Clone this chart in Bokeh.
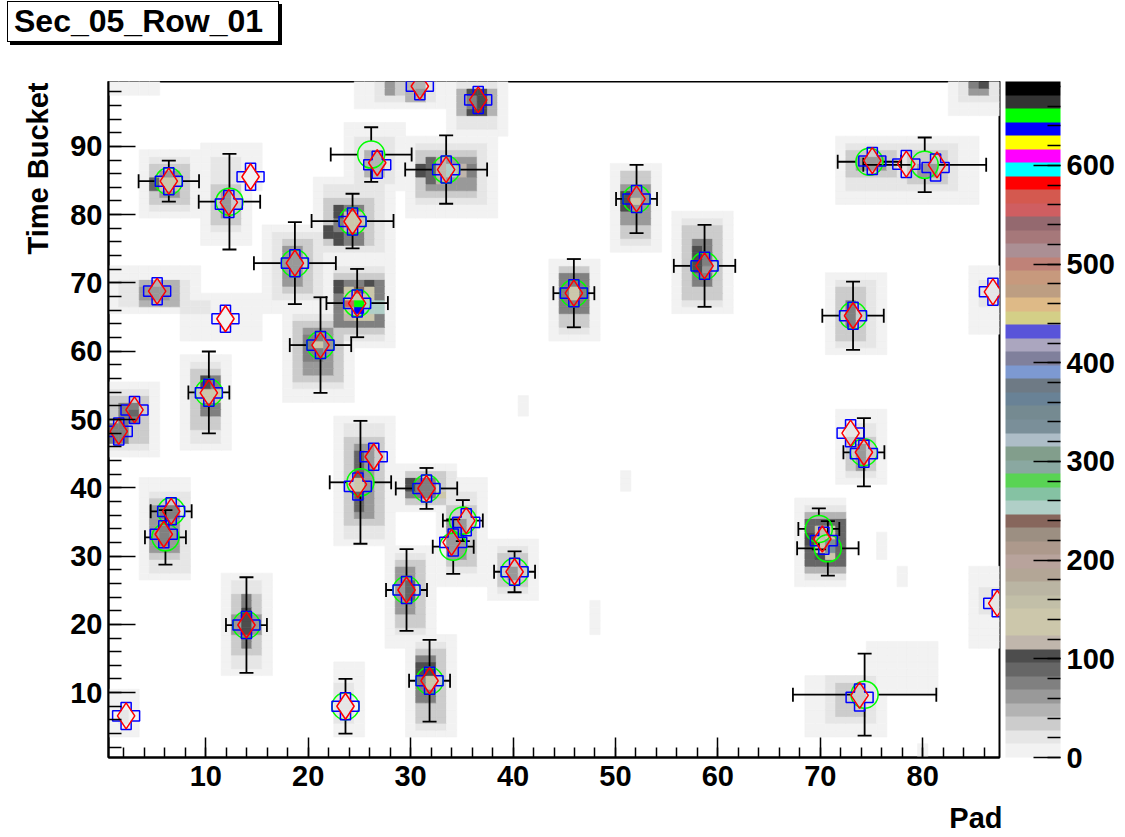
import math
import numpy as np
from bokeh.plotting import figure
from bokeh.layouts import column
from bokeh.models import LinearColorMapper, ColorBar, SingleIntervalTicker, Title, ColumnDataSource, Div
from bokeh.embed import file_html
from bokeh.resources import INLINE

# ---------------- data ----------------
TITLE = "Sec_05_Row_01"
X_TITLE = "Pad"
Y_TITLE = "Time Bucket"
PAD_RANGE = (0.5, 87.5)
TB_RANGE = (0.5, 99.5)
Z_MAX = 685

# ROOT default 50-colour palette (bottom -> top of the colour bar)
PALETTE = ["#f2f2f2", "#e6e6e6", "#cccccc", "#b3b3b3", "#999999", "#808080", "#666666", "#4d4d4d",
           "#c0b6ac", "#ccc7ab", "#ccc7ab", "#c2bfa8", "#bab5a3", "#b3a696", "#b8a39c", "#ad998c",
           "#9c8f82", "#87665c", "#b0cfc7", "#85c2a3", "#59d454", "#8aa8a1", "#829e8c", "#adbdc7",
           "#7a8f99", "#758a91", "#698296", "#6e7a85", "#7d99d1", "#80809c", "#aba6bf", "#5954d9",
           "#d4cf87", "#deba87", "#bd9e82", "#c7997d", "#bf8278", "#ab8f94", "#a6787a", "#94696f",
           "#cf5e61", "#d4594f", "#ff0000", "#00ffff", "#ff00ff", "#ffff00", "#0000ff", "#00ff00",
           "#333333", "#000000"]

# histogram content, as blocks of cells:
# (cluster, first pad, last pad, first time bucket, last time bucket, ADC)
CELL_BLOCKS = [
    (1, 25, 33, 96, 99, 8), (1, 27, 32, 97, 99, 20), (1, 28, 28, 98, 99, 60), (1, 29, 29, 98, 99, 35), (1, 30, 31, 97, 99, 45), (1, 31, 31, 98, 98, 65),
    (2, 34, 39, 92, 99, 8), (2, 35, 38, 93, 99, 20), (2, 35, 38, 95, 98, 45), (2, 36, 37, 95, 98, 100), (2, 36, 36, 96, 97, 70),
    (3, 4, 9, 80, 89, 8), (3, 5, 8, 81, 88, 20), (3, 5, 8, 82, 87, 40), (3, 6, 7, 83, 86, 60), (3, 5, 5, 84, 85, 85), (3, 6, 7, 84, 85, 140),
    (4, 13, 15, 84, 90, 8),
    (5, 10, 14, 76, 90, 8), (5, 11, 13, 78, 88, 20), (5, 11, 13, 79, 84, 40), (5, 12, 12, 80, 83, 60),
    (6, 24, 29, 84, 93, 8), (6, 25, 28, 85, 91, 20), (6, 26, 27, 86, 89, 45),
    (7, 30, 38, 80, 91, 8), (7, 31, 37, 82, 90, 20), (7, 31, 36, 83, 89, 40), (7, 32, 36, 84, 88, 60), (7, 31, 31, 86, 87, 100),
    (7, 32, 32, 85, 88, 85), (7, 33, 33, 85, 88, 120), (7, 34, 34, 86, 87, 253), (7, 35, 35, 86, 87, 115), (7, 36, 36, 86, 87, 75),
    (8, 21, 28, 74, 85, 8), (8, 22, 27, 75, 84, 20), (8, 22, 26, 76, 82, 40), (8, 23, 25, 76, 81, 70), (8, 22, 22, 77, 78, 100),
    (8, 23, 23, 76, 77, 100), (8, 24, 25, 78, 80, 140), (8, 23, 23, 80, 81, 100),
    (9, 16, 22, 66, 78, 8), (9, 17, 21, 68, 77, 20), (9, 18, 20, 69, 76, 40), (9, 18, 19, 70, 75, 55), (9, 18, 19, 72, 73, 65),
    (10, 1, 9, 66, 72, 8), (10, 8, 15, 62, 68, 8), (10, 2, 8, 67, 70, 20), (10, 4, 7, 67, 70, 45), (10, 4, 6, 68, 69, 65),
    (10, 8, 10, 66, 67, 20), (10, 11, 13, 62, 67, 8),
    (11, 22, 28, 61, 73, 8), (11, 23, 27, 62, 72, 20), (11, 23, 27, 63, 71, 40), (11, 23, 27, 64, 70, 75), (11, 24, 26, 65, 69, 140),
    (11, 23, 23, 69, 70, 100), (11, 26, 26, 70, 70, 100), (11, 25, 25, 69, 69, 240), (11, 26, 27, 66, 67, 253), (11, 24, 24, 67, 67, 555),
    (11, 25, 25, 67, 67, 650), (11, 25, 25, 66, 66, 637), (11, 24, 24, 65, 65, 115),
    (12, 18, 24, 53, 66, 8), (12, 19, 23, 55, 65, 20), (12, 19, 23, 56, 64, 35), (12, 20, 22, 57, 63, 55), (12, 20, 21, 59, 62, 75),
    (12, 21, 21, 61, 61, 130),
    (13, 8, 12, 46, 59, 8), (13, 9, 11, 47, 58, 20), (13, 9, 11, 49, 57, 40), (13, 10, 11, 51, 56, 70), (13, 10, 10, 55, 56, 100),
    (13, 10, 11, 53, 54, 140),
    (14, 1, 5, 45, 55, 8), (14, 1, 4, 46, 54, 20), (14, 1, 4, 47, 53, 40), (14, 2, 3, 50, 52, 75), (14, 1, 2, 47, 49, 70), (14, 3, 3, 51, 51, 95),
    (15, 4, 8, 27, 41, 8), (15, 5, 8, 28, 39, 20), (15, 5, 7, 30, 38, 35), (15, 5, 7, 31, 37, 55), (15, 6, 6, 32, 34, 75), (15, 6, 7, 36, 37, 75),
    (16, 1, 3, 4, 10, 8), (16, 2, 2, 6, 7, 20),
    (17, 12, 16, 13, 27, 8), (17, 13, 15, 14, 26, 20), (17, 13, 15, 16, 24, 40), (17, 14, 14, 17, 24, 75), (17, 14, 14, 19, 22, 100),
    (17, 13, 13, 19, 21, 60), (17, 15, 15, 19, 21, 60),
    (18, 23, 28, 32, 50, 8), (18, 24, 27, 33, 49, 20), (18, 24, 27, 35, 47, 35), (18, 25, 26, 36, 46, 60), (18, 25, 25, 37, 45, 90),
    (18, 25, 25, 40, 41, 135),
    (19, 29, 34, 37, 43, 8), (19, 30, 34, 38, 42, 20), (19, 30, 33, 38, 42, 40), (19, 30, 32, 39, 41, 80), (19, 30, 30, 40, 41, 105),
    (19, 33, 33, 39, 39, 140),
    (20, 33, 37, 26, 41, 8), (20, 34, 36, 28, 39, 20), (20, 34, 36, 29, 37, 40), (20, 34, 35, 30, 35, 60),
    (21, 28, 32, 17, 31, 8), (21, 29, 31, 19, 30, 20), (21, 29, 31, 20, 29, 35), (21, 29, 30, 22, 28, 65), (21, 30, 30, 24, 26, 95),
    (22, 38, 42, 24, 32, 8), (22, 39, 41, 25, 31, 20), (22, 39, 41, 26, 30, 35), (22, 40, 40, 27, 28, 55),
    (23, 23, 25, 4, 14, 8), (23, 23, 24, 6, 11, 20),
    (24, 30, 34, 4, 18, 8), (24, 31, 33, 5, 17, 20), (24, 31, 33, 6, 16, 35), (24, 31, 32, 9, 15, 70), (24, 31, 32, 13, 14, 100),
    (24, 32, 32, 11, 12, 130),
    (25, 50, 54, 75, 87, 8), (25, 51, 53, 76, 86, 20), (25, 51, 53, 77, 86, 35), (25, 51, 53, 79, 84, 65), (25, 51, 51, 81, 83, 100),
    (25, 52, 52, 82, 82, 140),
    (26, 56, 61, 66, 80, 8), (26, 57, 60, 67, 79, 20), (26, 57, 60, 68, 78, 35), (26, 58, 59, 70, 76, 70), (26, 58, 58, 72, 75, 100),
    (26, 59, 59, 72, 72, 60),
    (27, 44, 48, 62, 73, 8), (27, 45, 47, 63, 72, 20), (27, 45, 47, 64, 72, 35), (27, 45, 47, 66, 71, 70), (27, 46, 46, 68, 69, 140),
    (28, 71, 76, 60, 71, 8), (28, 72, 75, 61, 70, 20), (28, 72, 74, 62, 69, 35), (28, 73, 73, 64, 67, 75),
    (29, 72, 85, 82, 91, 8), (29, 73, 83, 84, 90, 20), (29, 73, 77, 86, 89, 35), (29, 79, 82, 85, 89, 35), (29, 74, 76, 87, 88, 65),
    (29, 80, 81, 86, 87, 60),
    (30, 83, 87, 95, 99, 8), (30, 84, 87, 97, 99, 20), (30, 85, 86, 98, 98, 60), (30, 86, 86, 99, 99, 100), (30, 85, 85, 99, 99, 75),
    (31, 85, 87, 63, 72, 8), (31, 86, 87, 67, 70, 20),
    (32, 72, 76, 41, 51, 8), (32, 73, 75, 42, 49, 20), (32, 73, 75, 43, 47, 40), (32, 74, 74, 43, 46, 60),
    (33, 68, 72, 26, 38, 8), (33, 69, 72, 27, 37, 20), (33, 69, 72, 28, 36, 45), (33, 69, 72, 29, 35, 95), (33, 70, 71, 30, 34, 135),
    (33, 70, 70, 33, 34, 160), (33, 71, 71, 31, 32, 335), (33, 70, 70, 30, 30, 100), (33, 69, 69, 32, 33, 105),
    (34, 85, 87, 17, 28, 8), (34, 86, 87, 22, 25, 20),
    (35, 69, 76, 4, 12, 8), (35, 75, 81, 10, 17, 8), (35, 71, 75, 6, 12, 20), (35, 72, 74, 7, 11, 30), (35, 72, 73, 8, 9, 40),
    (36, 41, 41, 51, 53, 8), (37, 51, 51, 40, 42, 8), (38, 48, 48, 19, 23, 8), (39, 76, 76, 30, 33, 8),
    (40, 78, 78, 26, 28, 8), (41, 80, 80, 1, 2, 8), (42, 1, 5, 98, 99, 8),
]

# reconstructed clusters (green circles) with errors
GREEN_X = [6.39, 12.31, 26.15, 33.47, 24.33, 18.70, 24.78, 21.20, 10.30, 74.80, 80.20, 52.06, 58.70, 45.94, 73.20,
           6.62, 6.06, 13.97, 25.10, 31.55, 35.10, 34.16, 29.60, 40.15, 23.64, 31.85, 74.26, 69.86, 70.74, 74.33]
GREEN_Y = [84.9, 81.9, 88.8, 86.6, 79.06, 72.9, 67.05, 60.9, 53.96, 87.75, 87.3, 82.3, 72.5, 68.5, 65.2,
           36.55, 32.74, 19.9, 40.8, 39.9, 35.2, 31.38, 25.03, 27.7, 8.0, 11.74, 45.2, 33.97, 31.13, 9.7]
GREEN_EX = [2.95, 3.0, 3.95, 4.0, 4.0, 4.0, 3.0, 3.0, 2.0, 3.1, 6.0, 2.0, 3.0, 2.0, 3.0,
            2.0, 2.0, 2.0, 3.0, 3.0, 1.95, 2.0, 2.0, 2.0, 0.5, 2.0, 2.0, 2.0, 3.0, 7.0]
GREEN_EY = [3.0, 7.0, 4.0, 5.0, 4.0, 6.0, 5.0, 7.0, 6.0, 1.0, 4.0, 5.0, 6.0, 5.0, 5.0,
            1.0, 4.0, 7.0, 9.0, 3.0, 3.0, 4.0, 6.0, 3.0, 4.0, 6.0, 5.0, 3.0, 4.0, 6.0]

# blue open crosses
BLUE_X = [30.9, 36.6, 6.39, 14.37, 12.25, 26.74, 33.47, 24.33, 18.7, 5.25, 11.92, 24.78, 21.2, 10.3, 3.04, 1.5,
          75.08, 78.4, 81.26, 52.06, 58.7, 45.94, 73.2, 86.86, 2.22, 6.62, 5.9, 13.97, 24.85, 26.4, 31.55,
          35.43, 34.16, 29.6, 40.15, 23.64, 31.85, 72.96, 74.26, 70.35, 87.28, 73.84]
BLUE_Y = [98.8, 96.8, 84.9, 85.55, 81.55, 87.3, 86.6, 79.0, 72.9, 68.8, 64.76, 67.0, 60.9, 53.9, 51.4, 48.26,
          87.85, 87.4, 86.9, 82.3, 72.5, 68.5, 65.2, 68.7, 6.59, 36.55, 33.2, 19.9, 40.2, 44.55, 39.9,
          34.94, 32.0, 25.03, 27.7, 8.0, 11.74, 48.0, 45.0, 32.26, 23.08, 9.3]

# red open diamonds
RED_X = [30.9, 36.6, 6.39, 14.37, 12.25, 26.74, 33.47, 24.33, 18.7, 5.25, 11.92, 24.78, 21.2, 10.3, 3.04, 1.5,
         75.08, 78.4, 81.4, 52.06, 58.7, 45.94, 73.2, 86.86, 2.22, 6.62, 5.9, 13.97, 24.85, 26.4, 31.55,
         35.43, 34.0, 29.6, 40.15, 23.64, 31.85, 72.96, 74.26, 70.2, 87.28, 73.84]
RED_Y = [98.8, 96.8, 84.9, 85.55, 81.8, 87.6, 86.6, 79.0, 72.9, 68.8, 64.76, 67.0, 60.9, 53.9, 51.4, 48.26,
         87.9, 87.4, 87.3, 82.3, 72.5, 68.5, 65.2, 68.7, 6.59, 36.55, 33.2, 19.9, 40.5, 44.55, 39.9,
         35.2, 32.0, 25.03, 27.7, 8.0, 11.74, 48.0, 45.2, 32.5, 23.08, 9.6]

# ---------------- layout constants ----------------
CANVAS_W = 1125
TOP_H = 81
FRAME_W, FRAME_H = 891, 676
MARKER_PX = 27
CAP_PX = 14
FONT = "Liberation Sans"

# ---------------- histogram cells ----------------
n_tb, n_pad = int(TB_RANGE[1] + 0.5), int(PAD_RANGE[1] + 0.5)
grid = np.zeros((n_tb + 1, n_pad + 1))
per_cluster = {}
for c, p0, p1, t0, t1, adc in CELL_BLOCKS:
    g = per_cluster.setdefault(c, np.zeros_like(grid))
    g[t0:t1 + 1, p0:p1 + 1] = adc
for g in per_cluster.values():
    grid = np.maximum(grid, g)
tb_idx, pad_idx = np.nonzero(grid)
cells = ColumnDataSource(dict(pad=pad_idx.astype(float), tb=tb_idx.astype(float), adc=grid[tb_idx, pad_idx]))

mapper = LinearColorMapper(palette=PALETTE, low=0, high=Z_MAX)

# ---------------- title strip (ROOT pave with shadow) ----------------
title_html = (
    '<div style="display:inline-block;margin:1px 0 0 7px;padding:0 15px 0 6px;'
    'border:1.5px solid #000;box-shadow:3px 3px 0 #000;background:#fff;color:#000;'
    "font-family:'Liberation Sans',Arial,sans-serif;font-weight:bold;font-size:32px;"
    'line-height:39px;white-space:nowrap;">' + TITLE + '</div>'
)
title_div = Div(text=title_html, width=CANVAS_W, height=TOP_H, margin=0)

# ---------------- main plot ----------------
p = figure(frame_width=FRAME_W, frame_height=FRAME_H, x_range=PAD_RANGE, y_range=TB_RANGE,
           min_border_left=108, min_border_top=0, min_border_bottom=80, min_border_right=10,
           output_backend="svg", toolbar_location=None, background_fill_color="white",
           border_fill_color="white", margin=0)
p.xgrid.visible = False
p.ygrid.visible = False
p.outline_line_color = "black"
p.outline_line_width = 2

p.rect(x="pad", y="tb", width=1, height=1, source=cells,
       fill_color={"field": "adc", "transform": mapper},
       line_color={"field": "adc", "transform": mapper}, line_width=0.7)

# error bars (ROOT leaves a gap the size of the marker)
px_x = FRAME_W / (PAD_RANGE[1] - PAD_RANGE[0])
px_y = FRAME_H / (TB_RANGE[1] - TB_RANGE[0])
gx, gy = MARKER_PX / 2 / px_x, MARKER_PX / 2 / px_y
sx0, sy0, sx1, sy1 = [], [], [], []
vcx, vcy, hcx, hcy = [], [], [], []
for x, y, ex, ey in zip(GREEN_X, GREEN_Y, GREEN_EX, GREEN_EY):
    if ex > gx:
        sx0 += [x - ex, x + gx]; sx1 += [x - gx, x + ex]; sy0 += [y, y]; sy1 += [y, y]
        vcx += [x - ex, x + ex]; vcy += [y, y]
    if ey > gy:
        sx0 += [x, x]; sx1 += [x, x]; sy0 += [y - ey, y + gy]; sy1 += [y - gy, y + ey]
        hcx += [x, x]; hcy += [y - ey, y + ey]
p.segment(x0=sx0, y0=sy0, x1=sx1, y1=sy1, line_color="black", line_width=1.8)
p.scatter(x=vcx, y=vcy, marker="dash", size=CAP_PX, angle=math.pi / 2, line_color="black", line_width=1.8)
p.scatter(x=hcx, y=hcy, marker="dash", size=CAP_PX, line_color="black", line_width=1.8)

p.scatter(x=GREEN_X, y=GREEN_Y, marker="circle", size=MARKER_PX, fill_color=None,
          line_color="#00ff00", line_width=1.5)
p.scatter(x=BLUE_X, y=BLUE_Y, marker="plus", size=MARKER_PX, fill_color=None,
          line_color="#0000ff", line_width=1.5)
p.scatter(x=RED_X, y=RED_Y, marker="diamond", size=26, fill_color=None,
          line_color="#ff0000", line_width=1.5)

for ax in (p.xaxis[0], p.yaxis[0]):
    ax.major_label_text_font = FONT
    ax.major_label_text_font_style = "bold"
    ax.major_label_text_font_size = "29px"
    ax.major_label_text_color = "black"
    ax.major_tick_out = 0
    ax.minor_tick_out = 0
    ax.axis_line_color = "black"
    ax.axis_line_width = 2
    ax.major_tick_line_color = "black"
    ax.minor_tick_line_color = "black"
    ax.major_tick_line_width = 1.5
    ax.minor_tick_line_width = 1.5
    ax.ticker = SingleIntervalTicker(interval=10, num_minor_ticks=5)
p.xaxis.major_tick_in = 20
p.xaxis.minor_tick_in = 10
p.xaxis.major_label_standoff = 8
p.yaxis.major_tick_in = 27
p.yaxis.minor_tick_in = 13
p.yaxis.major_label_standoff = 6

cb = ColorBar(color_mapper=mapper, width=55, height=FRAME_H, margin=0, padding=0, location=(6, 0),
              ticker=SingleIntervalTicker(interval=100, num_minor_ticks=5),
              major_label_text_font=FONT, major_label_text_font_style="bold",
              major_label_text_font_size="29px", major_label_text_color="black",
              major_tick_in=27, major_tick_out=0, minor_tick_in=13, minor_tick_out=0,
              major_tick_line_color="black", minor_tick_line_color="black",
              major_tick_line_width=1.5, minor_tick_line_width=1.5,
              label_standoff=6, bar_line_color=None, border_line_color=None,
              background_fill_color=None)
p.add_layout(cb, "right")

# axis titles at the far end of each axis, as ROOT draws them
p.add_layout(Title(text=X_TITLE, align="right", text_font=FONT, text_font_style="bold",
                   text_font_size="29px", text_color="black", standoff=22, offset=-3), "below")
p.add_layout(Title(text=Y_TITLE, align="right", text_font=FONT, text_font_style="bold",
                   text_font_size="29px", text_color="black", standoff=27, offset=1), "left")

layout = column(title_div, p, spacing=0)
open("out.html", "w").write(file_html(layout, INLINE))
